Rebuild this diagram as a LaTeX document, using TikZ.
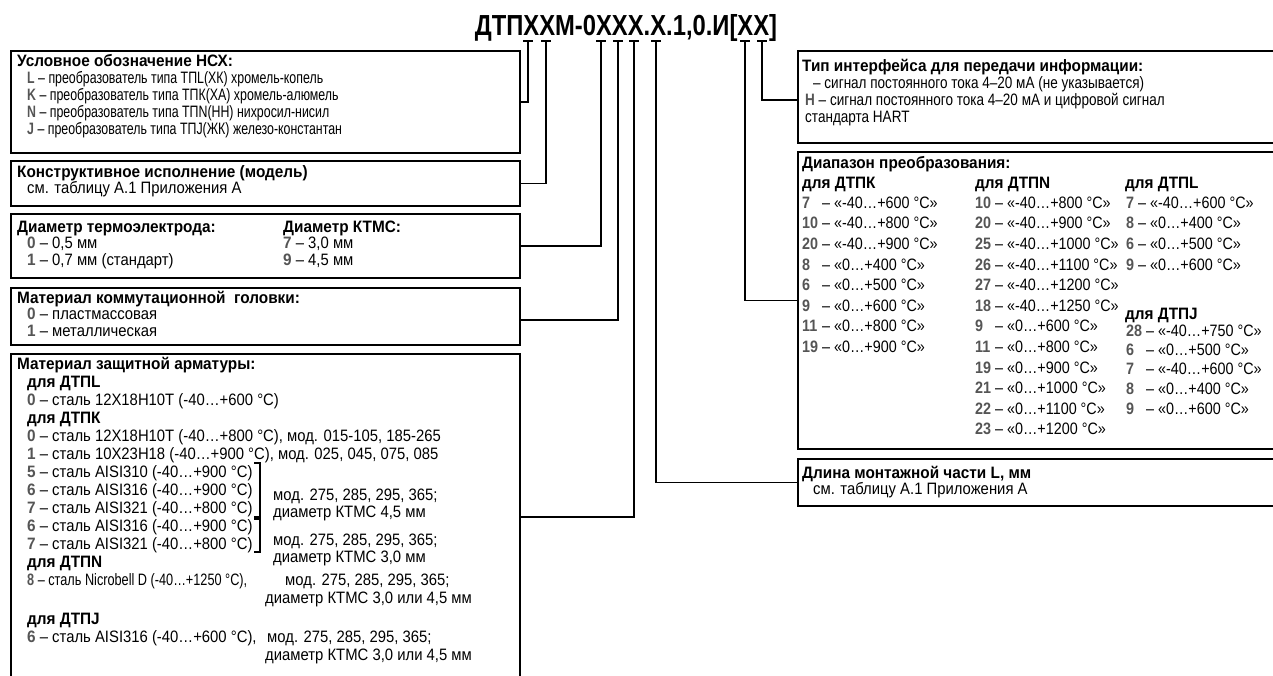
\documentclass[tikz,border=0pt]{standalone}
\usepackage{fontspec}
\setmainfont{Liberation Sans}[FakeStretch=0.90,BoldFeatures={FakeStretch=0.93}]
\newfontfamily\titlef{Liberation Sans}[FakeStretch=0.82]
\newfontfamily\fnA{Liberation Sans}[FakeStretch=0.75]
\newfontfamily\fnB{Liberation Sans}[FakeStretch=0.82]
\newfontfamily\fnC{Liberation Sans}[FakeStretch=0.77]
\newfontfamily\fnR{Liberation Sans}[FakeStretch=0.87]
\definecolor{codegray}{RGB}{85,85,85}
\newcommand{\cd}[1]{{\bfseries\color{codegray}#1}}
\newcommand{\fs}{\fontsize{16.5}{18}\selectfont}
\begin{document}
\begin{tikzpicture}[x=1pt,y=-1pt,
  tx/.style={anchor=west,inner sep=0pt,text height=11.5pt,text depth=1pt,font=\fs},
  txA/.style={tx,font=\fs\fnA},
  txB/.style={tx,font=\fs\fnB},
  txC/.style={tx,font=\fs\fnC},
  txR/.style={tx,font=\fs\fnR},
  hd/.style={tx,font=\fs\bfseries},
  boxs/.style={draw,line width=1.9pt,anchor=north west,inner sep=0pt},
  conn/.style={line width=1.6pt},
  brk/.style={line width=1.1pt}]
\useasboundingbox (0,0) rectangle (1273,675);
\clip (0,0) rectangle (1273,675);

% title
\node[anchor=base,inner sep=0pt,font=\fontsize{29}{30}\selectfont\titlef\bfseries] (title) at (626,35) {ДТПХХМ-0ХХХ.Х.1,0.И[ХХ]};

% tick coordinates
\foreach \n/\x in {1/528,2/546,3/601,4/618,5/634,6/656,7/745,8/762}
  \coordinate (t\n) at (\x,41);

% ---------- left boxes ----------
\node[boxs,minimum width=509pt,minimum height=102pt] (b1) at (10,50) {};
\node[boxs,minimum width=509pt,minimum height=45pt] (b2) at (10,160) {};
\node[boxs,minimum width=509pt,minimum height=64pt] (b3) at (10,213) {};
\node[boxs,minimum width=509pt,minimum height=57pt] (b4) at (10,287) {};
\node[boxs,minimum width=509pt,minimum height=340pt] (b5) at (10,353) {};

% ---------- right boxes ----------
\node[boxs,minimum width=483pt,minimum height=92pt] (r1) at (797,50) {};
\node[boxs,minimum width=483pt,minimum height=297pt] (r2) at (797,151) {};
\node[boxs,minimum width=483pt,minimum height=47pt] (r3) at (797,458) {};

% ---------- connectors ----------
\foreach \n in {1,...,8}
  \draw[conn] ([xshift=-5pt]t\n) -- ([xshift=5pt]t\n);
\draw[conn] (t1) |- (b1.east);
\draw[conn] (t2) |- (b2.east);
\draw[conn] (t3) |- (b3.east);
\draw[conn] (t4) |- (b4.east |- 0,320);
\draw[conn] (t5) |- (b5.east |- 0,517);
\draw[conn] (t6) |- (r3.west);
\draw[conn] (t7) |- (r2.west);
\draw[conn] (t8) |- (r1.west |- 0,100);

% ---------- box 1 ----------
\node[hd] (h1) at (17,61) {Условное обозначение НСХ:};
\node[txA] (l1) at (27,78) {\cd{L} – преобразователь типа ТПL(ХК) хромель-копель};
\node[txA] (l2) at (27,95) {\cd{K} – преобразователь типа ТПК(ХА) хромель-алюмель};
\node[txA] (l3) at (27,112) {\cd{N} – преобразователь типа ТПN(НН) нихросил-нисил};
\node[txA] (l4) at (27,129) {\cd{J} – преобразователь типа ТПJ(ЖК) железо-константан};

% ---------- box 2 ----------
\node[hd] (h2) at (17,172) {Конструктивное исполнение (модель)};
\node[tx] (m1) at (27,188) {см. таблицу А.1 Приложения А};

% ---------- box 3 ----------
\node[hd] (h3) at (17,227) {Диаметр термоэлектрода:};
\node[hd] (h3b) at (283,227) {Диаметр КТМС:};
\node[tx] (d1) at (27,243) {\cd{0} – 0,5 мм};
\node[tx] (d2) at (27,260) {\cd{1} – 0,7 мм (стандарт)};
\node[tx] (d3) at (283,243) {\cd{7} – 3,0 мм};
\node[tx] (d4) at (283,260) {\cd{9} – 4,5 мм};

% ---------- box 4 ----------
\node[hd] (h4) at (17,298) {Материал коммутационной\ \ головки:};
\node[tx] (k1) at (27,314) {\cd{0} – пластмассовая};
\node[tx] (k2) at (27,331) {\cd{1} – металлическая};

% ---------- box 5 ----------
\node[hd] (h5) at (17,364) {Материал защитной арматуры:};
\node[hd] (s1) at (27,382) {для ДТПL};
\node[tx] (s2) at (27,400) {\cd{0} – сталь 12Х18Н10Т (-40…+600 °С)};
\node[hd] (s3) at (27,418) {для ДТПК};
\node[tx] (s4) at (27,436) {\cd{0} – сталь 12Х18Н10Т (-40…+800 °С), мод. 015-105, 185-265};
\node[tx] (s5) at (27,454) {\cd{1} – сталь 10Х23Н18 (-40…+900 °С), мод. 025, 045, 075, 085};
\node[tx] (s6) at (27,472) {\cd{5} – сталь AISI310 (-40…+900 °С)};
\node[tx] (s7) at (27,490) {\cd{6} – сталь AISI316 (-40…+900 °С)};
\node[tx] (s8) at (27,508) {\cd{7} – сталь AISI321 (-40…+800 °С)};
\draw[brk] (254,463) -- (260,463) -- (260,517) -- (254,517);
\node[tx] (s9) at (273,495) {мод. 275, 285, 295, 365;};
\node[tx] (s10) at (273,512) {диаметр КТМС 4,5 мм};
\node[tx] (s11) at (27,526) {\cd{6} – сталь AISI316 (-40…+900 °С)};
\node[tx] (s12) at (27,544) {\cd{7} – сталь AISI321 (-40…+800 °С)};
\draw[brk] (254,519) -- (260,519) -- (260,552) -- (254,552);
\node[tx] (s13) at (273,540) {мод. 275, 285, 295, 365;};
\node[tx] (s14) at (273,557) {диаметр КТМС 3,0 мм};
\node[hd] (s15) at (27,562) {для ДТПN};
\node[txC] (s16) at (27,580) {\cd{8} – сталь Nicrobell D (-40…+1250 °С),};
\node[tx] (s17) at (285,580) {мод. 275, 285, 295, 365;};
\node[tx] (s18) at (265,598) {диаметр КТМС 3,0 или 4,5 мм};
\node[hd] (s19) at (27,619) {для ДТПJ};
\node[tx] (s20) at (27,637) {\cd{6} – сталь AISI316 (-40…+600 °С),};
\node[tx] (s21) at (267,637) {мод. 275, 285, 295, 365;};
\node[tx] (s22) at (265,655) {диаметр КТМС 3,0 или 4,5 мм};

% ---------- right box 1 ----------
\node[hd] (q1) at (802,66) {Тип интерфейса для передачи информации:};
\node[txB] (q2) at (813,83) {– сигнал постоянного тока 4–20 мА (не указывается)};
\node[txB] (q3) at (805,100) {\cd{Н} – сигнал постоянного тока 4–20 мА и цифровой сигнал};
\node[txB] (q4) at (805,117) {стандарта HART};

% ---------- right box 2 ----------
\node[hd] (p0) at (802,163) {Диапазон преобразования:};
\node[hd] (pk) at (802,183) {для ДТПК};
\node[hd] (pn) at (975,183) {для ДТПN};
\node[hd] (pl) at (1125,183) {для ДТПL};
\foreach \c/\v [count=\i] in {7/{«-40…+600 °С»},10/{«-40…+800 °С»},20/{«-40…+900 °С»},8/{«0…+400 °С»},6/{«0…+500 °С»},9/{«0…+600 °С»},11/{«0…+800 °С»},19/{«0…+900 °С»}}{
  \node[txR] (kc\i) at (802,{203+(\i-1)*20.6}) {\cd{\c}};
  \node[txR] (kv\i) at (822,{203+(\i-1)*20.6}) {– \v};
}
\foreach \c/\v [count=\i] in {10/{«-40…+800 °С»},20/{«-40…+900 °С»},25/{«-40…+1000 °С»},26/{«-40…+1100 °С»},27/{«-40…+1200 °С»},18/{«-40…+1250 °С»},9/{«0…+600 °С»},11/{«0…+800 °С»},19/{«0…+900 °С»},21/{«0…+1000 °С»},22/{«0…+1100 °С»},23/{«0…+1200 °С»}}{
  \node[txR] (nc\i) at (975,{203+(\i-1)*20.6}) {\cd{\c}};
  \node[txR] (nv\i) at (995,{203+(\i-1)*20.6}) {– \v};
}
\foreach \c/\v [count=\i] in {7/{«-40…+600 °С»},8/{«0…+400 °С»},6/{«0…+500 °С»},9/{«0…+600 °С»}}{
  \node[txR] (lv\i) at (1126,{203+(\i-1)*20.6}) {\cd{\c} – \v};
}
\node[hd] (pj) at (1125,314) {для ДТПJ};
\foreach \c/\v/\y [count=\i] in {28/{«-40…+750 °С»}/331,6/{«0…+500 °С»}/350,7/{«-40…+600 °С»}/369,8/{«0…+400 °С»}/389,9/{«0…+600 °С»}/409}{
  \node[txR] (jc\i) at (1126,\y) {\cd{\c}};
  \node[txR] (jv\i) at (1146,\y) {– \v};
}

% ---------- right box 3 ----------
\node[hd] (g1) at (802,473) {Длина монтажной части L, мм};
\node[tx] (g2) at (813,489) {см. таблицу А.1 Приложения А};
\end{tikzpicture}
\end{document}
